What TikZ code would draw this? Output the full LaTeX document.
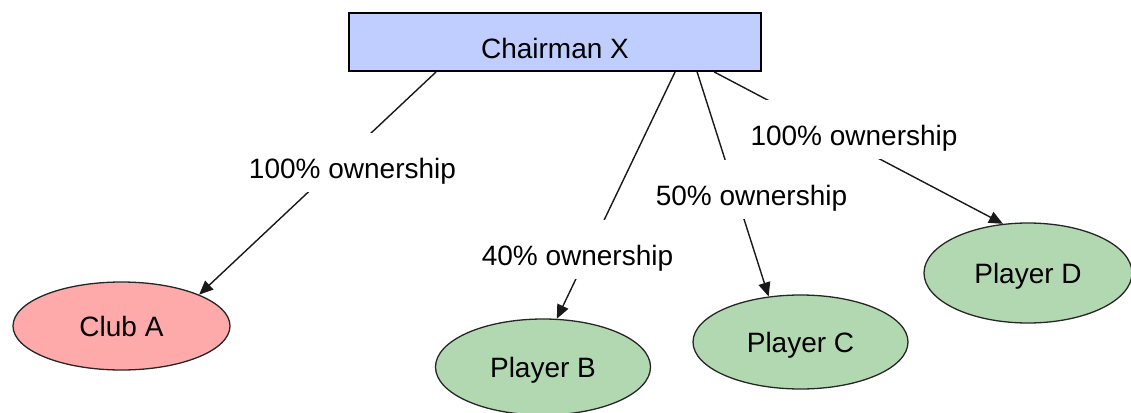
\documentclass[tikz,border=0pt]{standalone}
\usepackage{fontspec}
\setmainfont{Liberation Sans}
\usetikzlibrary{shapes.geometric,arrows.meta,calc}
\definecolor{chairfill}{RGB}{192,205,255}
\definecolor{clubfill}{RGB}{255,170,170}
\definecolor{playerfill}{RGB}{178,216,178}
\begin{document}
\begin{tikzpicture}[x=1pt,y=-1pt,
  every node/.style={font=\fontsize{28}{34}\selectfont},
  chairbox/.style={draw=black,line width=1.8pt,fill=chairfill,minimum width=412pt,minimum height=58pt,inner sep=0pt,text height=33pt,text depth=0pt},
  oval/.style={ellipse,draw=black!85,line width=1.3pt,inner sep=0pt,text height=20pt,text depth=0pt},
  clubnode/.style={oval,fill=clubfill},
  playernode/.style={oval,fill=playerfill},
  lab/.style={fill=white,inner xsep=3pt,inner ysep=13.5pt,text height=32pt,text depth=0pt},
  conn/.style={line width=1.4pt,draw=black!90,-{Triangle[length=14pt,width=12pt]}}
]
\useasboundingbox (0,0) rectangle (1131,412);
\node[chairbox] (chair) at (555,42) {Chairman X};
\node[clubnode,minimum width=217pt,minimum height=88pt] (club) at (121.5,326) {Club A};
\node[playernode,minimum width=215pt,minimum height=96pt] (pb) at (543,367) {Player B};
\node[playernode,minimum width=215pt,minimum height=94pt] (pc) at (800.5,342) {Player C};
\node[playernode,minimum width=208pt,minimum height=100pt] (pd) at (1028,273) {Player D};

\draw[conn] ($(chair.south west)+(88,0)$) -- (club.22);
\draw[conn] ($(chair.south west)+(327,0)$) -- (pb.74);
\draw[conn] ($(chair.south west)+(349,0)$) -- (pc.125);
\draw[conn] ($(chair.south west)+(366,0)$) -- (pd.117);

\node[lab] (l1) at (352.5,162.5) {100\% ownership};
\node[lab] (l2) at (577.5,249.5) {40\% ownership};
\node[lab] (l3) at (751.5,189.5) {50\% ownership};
\node[lab] (l4) at (854,129) {100\% ownership};
\end{tikzpicture}
\end{document}
